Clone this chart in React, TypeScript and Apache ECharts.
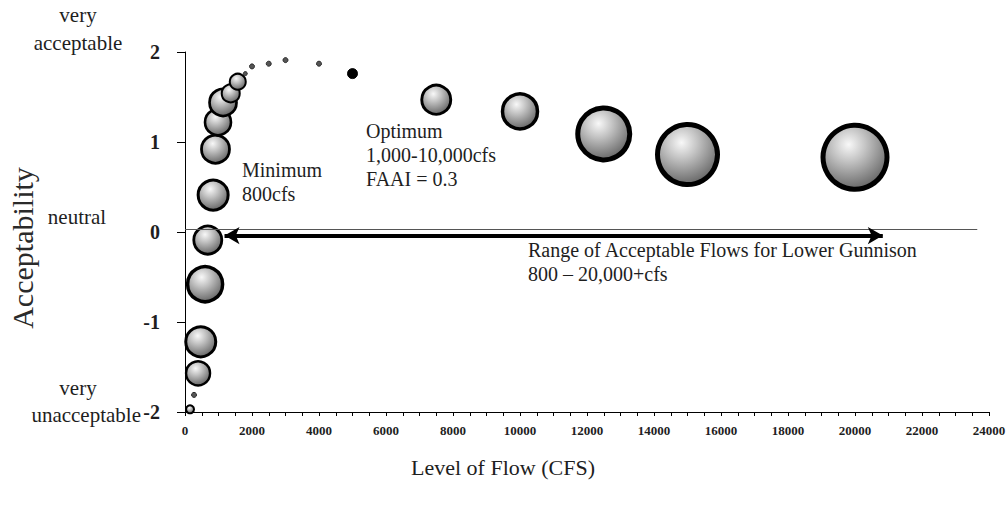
import React, { useEffect, useRef } from "react";
import * as echarts from "echarts";

// Flow level (cfs), acceptability score, bubble size
const flow = [150, 270, 390, 470, 600, 680, 840, 910, 985, 1135, 1365, 1575, 1800, 2000, 2500, 3000, 4000, 5000, 7500, 10000, 12500, 15000, 20000];
const acceptability = [-1.97, -1.81, -1.57, -1.22, -0.58, -0.09, 0.41, 0.92, 1.22, 1.44, 1.54, 1.67, 1.76, 1.84, 1.87, 1.91, 1.87, 1.76, 1.47, 1.34, 1.09, 0.86, 0.83];
const bubbleSize = [8, 5, 24, 30, 35, 28, 30, 28, 26, 27, 18, 16, 4, 5, 5, 5, 5, 10, 29, 35, 52, 60, 64];

const xMin = 0;
const xMax = 24000;
const xInterval = 2000;
const yMin = -2;
const yMax = 2;
const yInterval = 1;

const acceptableRange = [1180, 20830];
const rangeLevel = -0.04;
const zeroLineEnd = 23650;

const FONT = "Liberation Serif";
const TXT = "#1e1e1e";

export default function App() {
  const ref = useRef<HTMLDivElement>(null);

  useEffect(() => {
    if (!ref.current) return;
    const chart = echarts.init(ref.current, undefined, { renderer: "svg" });

    const sphere = new echarts.graphic.RadialGradient(0.4, 0.3, 0.75, [
      { offset: 0, color: "#f8f8f8" },
      { offset: 0.35, color: "#c4c4c4" },
      { offset: 1, color: "#5e5e5e" },
    ]);

    const data = flow.map((x, i) => {
      const s = bubbleSize[i];
      let itemStyle: any;
      if (s < 8) {
        itemStyle = { color: "#555", borderColor: "#2a2a2a", borderWidth: 1, opacity: 1 };
      } else if (s < 12 && x > 2000) {
        itemStyle = { color: "#000", borderColor: "#000", borderWidth: 1, opacity: 1 };
      } else {
        itemStyle = { color: sphere, borderColor: "#000", borderWidth: Math.max(2, Math.min(5, s / 10)), opacity: 1 };
      }
      return { value: [x, acceptability[i], s], symbolSize: s, itemStyle };
    });

    const textStyle = (extra: any) => ({
      font: `21px "${FONT}"`,
      fill: TXT,
      ...extra,
    });

    chart.setOption({
      animation: false,
      backgroundColor: "#fff",
      grid: { left: 185, right: 19, top: 52, bottom: 93, outerBoundsMode: "none" },
      xAxis: {
        type: "value",
        min: xMin,
        max: xMax,
        interval: xInterval,
        splitLine: { show: false },
        axisLine: { show: true, onZero: false, lineStyle: { color: "#000", width: 1 } },
        axisTick: { show: true, length: 4, lineStyle: { color: "#000" } },
        minorTick: { show: true, splitNumber: 4, length: 4, lineStyle: { color: "#000" } },
        axisLabel: {
          fontFamily: FONT,
          fontWeight: "bold",
          fontSize: 13,
          color: TXT,
          margin: 12,
          formatter: (v: number) => String(v),
        },
      },
      yAxis: {
        type: "value",
        min: yMin,
        max: yMax,
        interval: yInterval,
        splitLine: { show: false },
        axisLine: { show: true, onZero: false, lineStyle: { color: "#000", width: 1 } },
        axisTick: { show: true, length: 8, lineStyle: { color: "#000" } },
        axisLabel: { fontFamily: FONT, fontWeight: "bold", fontSize: 20, color: TXT, margin: 25 },
      },
      series: [
        {
          type: "scatter",
          data: [],
          silent: true,
          markLine: {
            silent: true,
            animation: false,
            label: { show: false },
            emphasis: { disabled: true },
            data: [
              [
                { coord: [xMin, 0.03], symbol: "none", lineStyle: { color: "#555", width: 1, type: "solid" } },
                { coord: [zeroLineEnd, 0.03], symbol: "none" },
              ],
              [
                { coord: [acceptableRange[0], rangeLevel], symbol: "arrow", symbolSize: [13, 15], lineStyle: { color: "#000", width: 4, type: "solid" } },
                { coord: [acceptableRange[1], rangeLevel], symbol: "arrow", symbolSize: [13, 15] },
              ],
            ],
          },
        },
        {
          type: "scatter",
          data,
          silent: true,
          clip: false,
          itemStyle: { opacity: 1 },
        },
      ],
      graphic: [
        { type: "text", x: 78, y: 29, style: textStyle({ text: "very\nacceptable", textAlign: "center", textVerticalAlign: "middle", lineHeight: 28 }) },
        { type: "text", x: 77, y: 217, style: textStyle({ text: "neutral", textAlign: "center", textVerticalAlign: "middle" }) },
        { type: "text", x: 78, y: 388, style: textStyle({ text: "very", textAlign: "center", textVerticalAlign: "middle" }) },
        { type: "text", x: 141, y: 415, style: textStyle({ text: "unacceptable", textAlign: "right", textVerticalAlign: "middle" }) },
        {
          type: "text",
          x: 22,
          y: 248,
          rotation: Math.PI / 2,
          style: { text: "Acceptability", font: `30px "${FONT}"`, fill: "#2a2a2a", textAlign: "center", textVerticalAlign: "middle" },
        },
        { type: "text", x: 503, y: 467, style: { text: "Level of Flow (CFS)", font: `22px "${FONT}"`, fill: TXT, textAlign: "center", textVerticalAlign: "middle" } },
        { type: "text", x: 242, y: 182, style: { text: "Minimum\n800cfs", font: `20px "${FONT}"`, fill: TXT, lineHeight: 24, textAlign: "left", textVerticalAlign: "middle" } },
        { type: "text", x: 366, y: 155, style: { text: "Optimum\n1,000-10,000cfs\nFAAI = 0.3", font: `20px "${FONT}"`, fill: TXT, lineHeight: 24, textAlign: "left", textVerticalAlign: "middle" } },
        { type: "text", x: 528, y: 262, style: { text: "Range of Acceptable Flows for Lower Gunnison\n800 \u2013 20,000+cfs", font: `20px "${FONT}"`, fill: TXT, lineHeight: 24, textAlign: "left", textVerticalAlign: "middle" } },
      ],
    });

    return () => chart.dispose();
  }, []);

  return <div ref={ref} style={{ position: "absolute", left: 0, top: 0, width: 1008, height: 505 }} />;
}
